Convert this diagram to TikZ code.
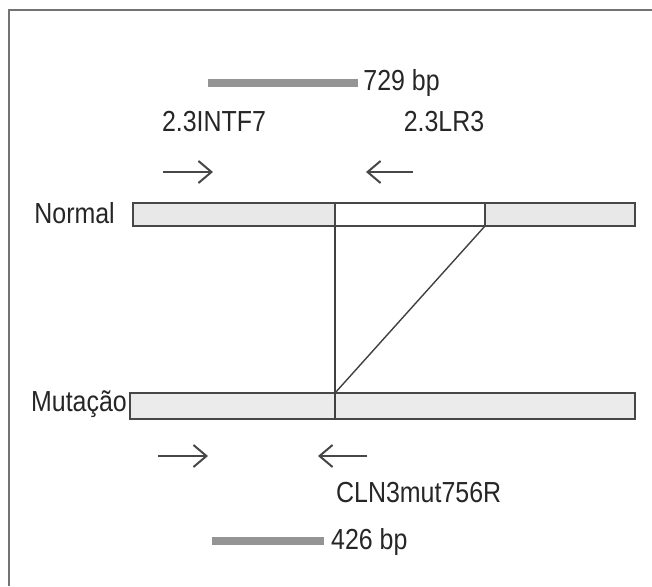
\documentclass[tikz,border=0pt]{standalone}
\usepackage{fontspec}
\setmainfont{Liberation Sans}[FakeStretch=0.86]
\usetikzlibrary{arrows.meta,positioning}

\tikzset{
  lbl/.style={font=\fontsize{29}{33}\selectfont, text=black!85, inner sep=0pt},
  seg/.style={draw=black!72, line width=1.4, minimum height=23, inner sep=0pt, outer sep=0pt},
  band/.style={fill=black!42, minimum height=8, inner sep=0pt},
  primer/.style={->, draw=black!72, line width=2},
}

\begin{document}
\begin{tikzpicture}[x=1pt,y=-1pt,>={Straight Barb[length=13pt,width=22pt,line width=2pt]}]
\useasboundingbox (0,0) rectangle (652,586);
% ---------- frame (only top and left edge in view) ----------
\draw[black!55, line width=2] (9,586) -- (9,10) -- (652,10);
% ---------- normal allele ----------
\node[band, minimum width=150] (b729) at (283,83) {};
\node[lbl, anchor=west] (l729) at ([xshift=5]b729.east) {729 bp};
\node[lbl] (fwd) at (214,122) {2.3INTF7};
\node[lbl] (rev) at (444,122) {2.3LR3};
\coordinate (f1a) at (163,172); \coordinate (f1b) at (213,172);
\coordinate (r1a) at (413,172); \coordinate (r1b) at (366,172);
\draw[primer] (f1a) -- (f1b);
\draw[primer] (r1a) -- (r1b);
\node[seg, fill=black!9, minimum width=202, anchor=north west] (n1) at (133,203) {};
\node[seg, fill=white, minimum width=150, right=0pt of n1] (n2) {};
\node[seg, fill=black!9, minimum width=150, right=0pt of n2] (n3) {};
\node[lbl, anchor=east] (lnorm) at (115,213) {Normal};
% ---------- mutant allele ----------
\node[seg, fill=black!8, minimum width=505, minimum height=26, anchor=north west] (mut) at (130,393) {};
\node[lbl, anchor=east] (lmut) at (127,404) {Mutação};
\draw[black!75, line width=1.4] (n1.south east) -- (n1.south east |- mut.south);
\draw[black!75, line width=1.4] (n3.south west) -- (n1.south east |- mut.north);
\coordinate (f2a) at (158,456); \coordinate (f2b) at (208,456);
\coordinate (r2a) at (367,456); \coordinate (r2b) at (318,456);
\draw[primer] (f2a) -- (f2b);
\draw[primer] (r2a) -- (r2b);
\node[lbl, anchor=west] (mrev) at (336,493) {CLN3mut756R};
\node[band, minimum width=112] (b426) at (268,541) {};
\node[lbl, anchor=west] (l426) at (331,542) {426 bp};
\end{tikzpicture}
\end{document}
